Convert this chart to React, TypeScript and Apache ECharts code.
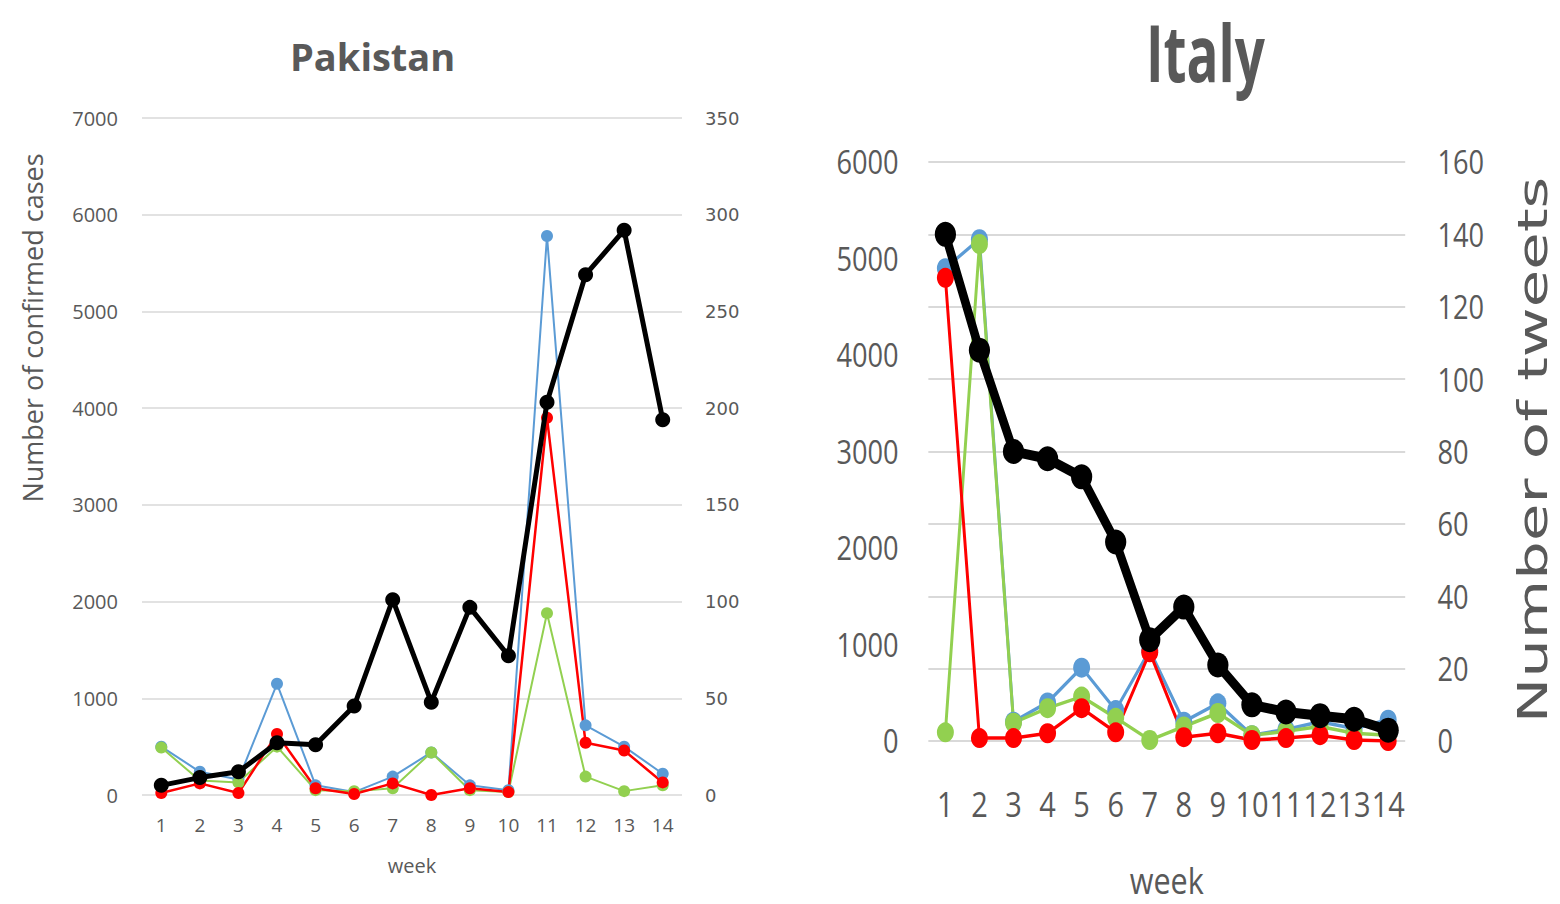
import React, { useEffect, useRef } from "react";
import * as echarts from "echarts";

const weeks = ["1", "2", "3", "4", "5", "6", "7", "8", "9", "10", "11", "12", "13", "14"];

// Pakistan
const pkBlue = [500, 240, 160, 1150, 100, 30, 190, 440, 100, 50, 5780, 720, 500, 220];
const pkGreen = [490, 150, 130, 500, 50, 40, 70, 440, 50, 30, 1880, 190, 40, 100];
const pkRed = [20, 120, 20, 630, 70, 10, 120, 0, 70, 30, 3900, 540, 460, 130];
const pkTweets = [5, 9, 12, 27, 26, 46, 101, 48, 97, 72, 203, 269, 292, 194];

// Italy
const itBlue = [4900, 5200, 200, 400, 760, 320, 940, 200, 390, 60, 120, 200, 130, 220];
const itGreen = [90, 5150, 190, 340, 460, 240, 10, 150, 290, 60, 100, 150, 80, 60];
const itRed = [4800, 30, 30, 80, 340, 90, 920, 40, 80, 10, 30, 60, 10, 0];
const itTweets = [140, 108, 80, 78, 73, 55, 28, 37, 21, 10, 8, 7, 6, 3];

const BLUE = "#5B9BD5";
const GREEN = "#92D050";
const RED = "#FF0000";
const BLACK = "#000000";
const GREY = "#595959";
const GRID = "#D9D9D9";

const IT_SCALE = 0.85;

const plain = (v: number) => String(v);

const line = (name: string, data: number[], color: string, yi: number, w: number, sym: number, z = 2) => ({
  name,
  type: "line",
  xAxisIndex: 0,
  yAxisIndex: yi,
  data,
  symbol: "circle",
  symbolSize: sym,
  lineStyle: { color, width: w },
  itemStyle: { color },
  z,
});

function pakistanOption(): any {
  return {
    animation: false,
    grid: { left: 142, top: 118, width: 540, height: 677, containLabel: false, outerBoundsMode: "none" },
    xAxis: {
      type: "category",
      data: weeks,
      boundaryGap: true,
      axisLine: { show: false },
      axisTick: { show: false },
      axisLabel: { color: GREY, fontSize: 19, fontFamily: "Open Sans", margin: 20 },
      name: "week",
      nameLocation: "middle",
      nameGap: 60,
      nameTextStyle: { color: GREY, fontSize: 20, fontFamily: "Open Sans" },
    },
    yAxis: [
      {
        type: "value",
        min: 0,
        max: 7000,
        interval: 1000,
        axisLine: { show: false },
        axisTick: { show: false },
        splitLine: { lineStyle: { color: GRID, width: 1.5 } },
        axisLabel: { color: GREY, fontSize: 20, fontFamily: "Open Sans", margin: 24, formatter: plain },
      },
      {
        type: "value",
        position: "right",
        min: 0,
        max: 350,
        interval: 50,
        axisLine: { show: false },
        axisTick: { show: false },
        splitLine: { show: false },
        axisLabel: { color: GREY, fontSize: 18, fontFamily: "DejaVu Sans", margin: 23, formatter: plain },
      },
    ],
    graphic: [
      {
        type: "text",
        left: 290,
        top: 37,
        style: { text: "Pakistan", fill: GREY, font: "bold 38px 'Open Sans'" },
      },
      {
        type: "text",
        x: 32,
        y: 328,
        rotation: Math.PI / 2,
        style: {
          text: "Number of confirmed cases",
          fill: GREY,
          font: "27px 'Open Sans'",
          align: "center",
          verticalAlign: "middle",
        },
      },
    ],
    series: [
      line("Pakistan A", pkBlue, BLUE, 0, 2, 12),
      line("Pakistan B", pkGreen, GREEN, 0, 2, 12),
      line("Pakistan C", pkRed, RED, 0, 2.5, 12),
      line("Pakistan tweets", pkTweets, BLACK, 1, 5, 15, 3),
    ],
  };
}

function italyOption(): any {
  // this chart lives in a box that is squeezed horizontally by IT_SCALE
  return {
    animation: false,
    grid: { left: 151, top: 162, width: 561, height: 579, containLabel: false, outerBoundsMode: "none" },
    xAxis: {
      type: "category",
      data: weeks,
      boundaryGap: true,
      axisLine: { show: false },
      axisTick: { show: false },
      axisLabel: { color: GREY, fontSize: 34, fontFamily: "Open Sans", margin: 46, interval: 0 },
      name: "week",
      nameLocation: "middle",
      nameGap: 121,
      nameTextStyle: { color: GREY, fontSize: 36, fontFamily: "Open Sans" },
    },
    yAxis: [
      {
        type: "value",
        min: 0,
        max: 6000,
        interval: 1000,
        axisLine: { show: false },
        axisTick: { show: false },
        splitLine: { show: false },
        axisLabel: { color: GREY, fontSize: 32, fontFamily: "Open Sans", margin: 35, formatter: plain },
      },
      {
        type: "value",
        position: "right",
        min: 0,
        max: 160,
        interval: 20,
        axisLine: { show: false },
        axisTick: { show: false },
        splitLine: { lineStyle: { color: GRID, width: 2 } },
        axisLabel: { color: GREY, fontSize: 32, fontFamily: "Open Sans", margin: 38, formatter: plain },
      },
    ],
    graphic: [
      {
        type: "text",
        x: 477,
        y: 52,
        scaleX: 0.8,
        style: {
          text: "Italy",
          fill: GREY,
          font: "bold 78px 'Open Sans'",
          align: "center",
          verticalAlign: "middle",
        },
      },
      {
        type: "text",
        x: 862,
        y: 450,
        rotation: Math.PI / 2,
        scaleX: 1.27,
        style: {
          text: "Number of tweets",
          fill: GREY,
          font: "48px 'DejaVu Sans'",
          align: "center",
          verticalAlign: "middle",
        },
      },
    ],
    series: [
      line("Italy A", itBlue, BLUE, 0, 3.5, 20),
      line("Italy B", itGreen, GREEN, 0, 3.5, 20),
      line("Italy C", itRed, RED, 0, 3.5, 20),
      line("Italy tweets", itTweets, BLACK, 1, 10, 25, 3),
    ],
  };
}

export default function App() {
  const pkRef = useRef<HTMLDivElement>(null);
  const itRef = useRef<HTMLDivElement>(null);
  useEffect(() => {
    if (!pkRef.current || !itRef.current) return;
    const pk = echarts.init(pkRef.current, undefined, { renderer: "svg" });
    const it = echarts.init(itRef.current, undefined, { renderer: "svg" });
    pk.setOption(pakistanOption());
    it.setOption(italyOption());
    return () => {
      pk.dispose();
      it.dispose();
    };
  }, []);
  return (
    <div style={{ position: "absolute", left: 0, top: 0, width: 1560, height: 904, background: "#fff", overflow: "hidden" }}>
      <div ref={pkRef} style={{ position: "absolute", left: 0, top: 0, width: 800, height: 904 }} />
      <div
        ref={itRef}
        style={{
          position: "absolute",
          left: 800,
          top: 0,
          width: Math.round(760 / IT_SCALE),
          height: 904,
          transform: `scaleX(${IT_SCALE})`,
          transformOrigin: "0 0",
        }}
      />
    </div>
  );
}
